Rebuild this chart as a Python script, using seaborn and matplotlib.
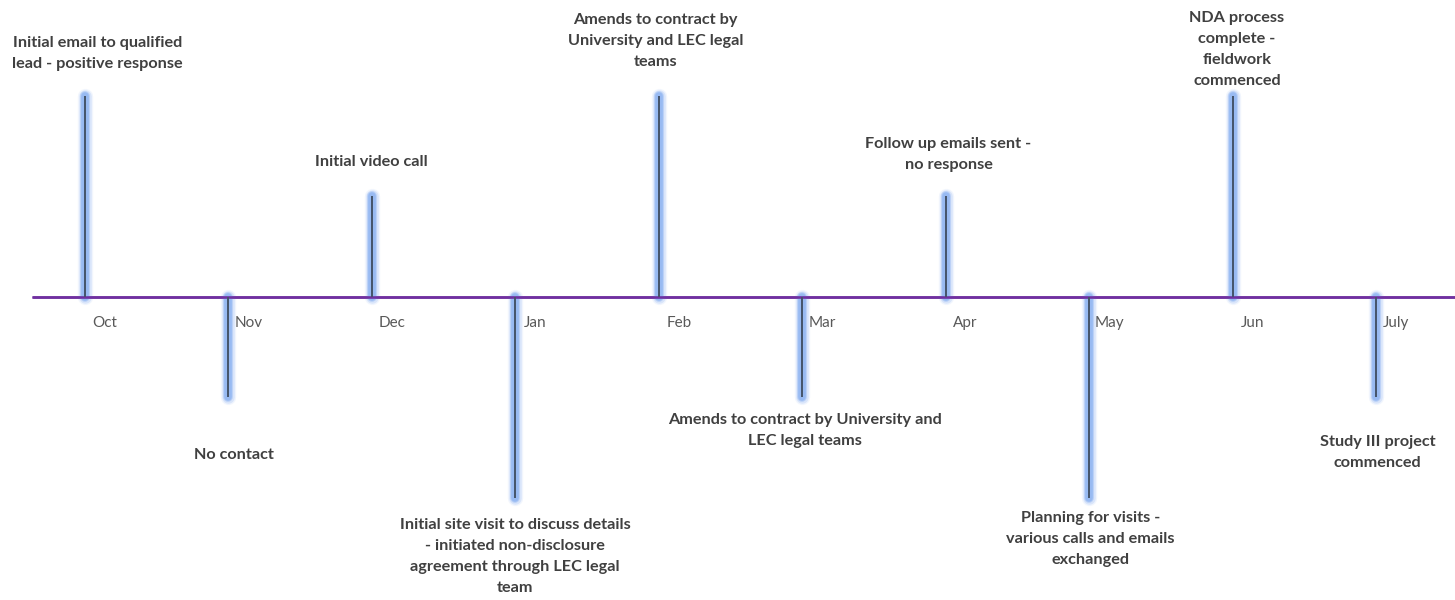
import matplotlib
matplotlib.use("Agg")
import matplotlib.pyplot as plt
import seaborn as sns
import pandas as pd
import numpy as np

# Timeline content
months = ["Oct", "Nov", "Dec", "Jan", "Feb", "Mar", "Apr", "May", "Jun", "July"]
heights = [2, -1, 1, -2, 2, -1, 1, -2, 2, -1]
events = [
    "Initial email to qualified\nlead - positive response",
    "No contact",
    "Initial video call",
    "Initial site visit to discuss details\n- initiated non-disclosure\nagreement through LEC legal\nteam",
    "Amends to contract by\nUniversity and LEC legal\nteams",
    "Amends to contract by University and\nLEC legal teams",
    "Follow up emails sent -\nno response",
    "Planning for visits -\nvarious calls and emails\nexchanged",
    "NDA process\ncomplete -\nfieldwork\ncommenced",
    "Study III project\ncommenced",
]

# Label placement (data units)
label_y = [2.42, -1.57, 1.34, -2.58, 2.55, -1.33, 1.42, -2.41, 2.46, -1.55]
label_dx = [0.09, 0.04, 0.0, 0.0, -0.02, 0.02, 0.02, 0.01, 0.03, 0.01]
stem_shift = -0.14

df = pd.DataFrame({"month": months, "height": heights, "event": events})
df["pos"] = np.arange(len(df))
df["stem_x"] = df["pos"] + stem_shift

sns.set_theme(style="white")
plt.rcParams["font.family"] = ["Lato", "DejaVu Sans"]

W, H = 1455, 600
fig = plt.figure(figsize=(W / 100, H / 100), dpi=100)
ax = fig.add_axes([33 / W, 0, 1 - 33 / W, 1])

# Soft blue glow behind each stem
for lw, a in [(11, 0.10), (9, 0.2), (7, 0.35), (5.5, 0.5)]:
    ax.vlines(df["stem_x"], 0, df["height"], colors="#7aa6f0", linewidth=lw,
              alpha=a, capstyle="round", zorder=2)
ax.vlines(df["stem_x"], 0, df["height"], colors="#44546a", linewidth=1.4, zorder=3)

# Axis line with month labels
ax.axhline(0, color="#7030a0", linewidth=1.8, zorder=1)
ax.set_xticks(df["pos"], df["month"])
ax.set_xticks(np.arange(-0.5, 10, 1.0), minor=True)
ax.tick_params(axis="x", which="major", length=0, pad=14, labelsize=11,
               labelcolor="#595959")
ax.tick_params(axis="x", which="minor", length=5, width=1.5, color="#7030a0",
               direction="out")
ax.set_yticks([])
for s in ax.spines.values():
    s.set_visible(False)
ax.spines["bottom"].set_position(("data", 0))
ax.spines["bottom"].set_visible(True)
ax.spines["bottom"].set_color("#7030a0")
ax.spines["bottom"].set_linewidth(1.8)

ax.set_xlim(-0.5, 9.41)
ax.set_ylim(-3.015, 2.955)

for _, r in df.iterrows():
    ax.text(r["stem_x"] + label_dx[r["pos"]], label_y[r["pos"]], r["event"],
            ha="center", va="center", multialignment="center",
            fontsize=11.7, fontweight="bold", color="#404040", linespacing=1.65)

fig.savefig("out.png", dpi=100)
